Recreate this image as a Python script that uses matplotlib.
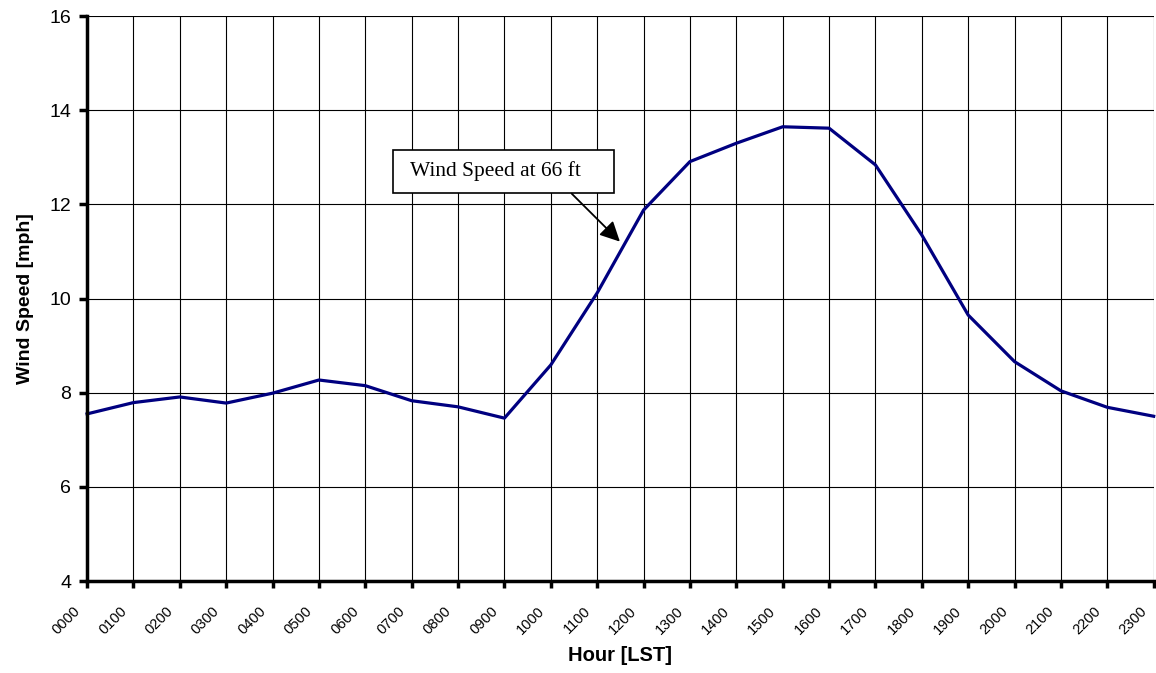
import matplotlib
matplotlib.use('Agg')
import matplotlib.pyplot as plt
import matplotlib.transforms as mtransforms

hours = ['0000', '0100', '0200', '0300', '0400', '0500', '0600', '0700',
         '0800', '0900', '1000', '1100', '1200', '1300', '1400', '1500',
         '1600', '1700', '1800', '1900', '2000', '2100', '2200', '2300']
speed = [7.55, 7.79, 7.91, 7.78, 7.99, 8.27, 8.15, 7.83,
         7.70, 7.46, 8.59, 10.12, 11.88, 12.91, 13.30, 13.65,
         13.62, 12.84, 11.35, 9.65, 8.66, 8.04, 7.69, 7.50]

plt.rcParams['font.family'] = ['Liberation Sans', 'DejaVu Sans']

fig = plt.figure(figsize=(11.56, 6.73), dpi=100)
ax = fig.add_axes([0.0753, 0.1367, 0.9227, 0.8393])

x = list(range(len(hours)))
ax.plot(x, speed, color='#000080', lw=2.3, zorder=3, clip_on=False)

ax.set_xlim(0, 23)
ax.set_ylim(4, 16)
ax.set_xticks(x)
ax.set_yticks(range(4, 17, 2))
ax.tick_params(axis='y', labelsize=14, length=5.5, width=2.5, direction='out', pad=6)
ax.tick_params(axis='x', length=5, width=2.5, direction='out', labelbottom=False)

# rotated hour labels, sitting a little left of each tick like the original
off = mtransforms.ScaledTranslation(-9 / 100, -28 / 100, fig.dpi_scale_trans)
for i, lab in enumerate(hours):
    ax.text(i, 0, lab, transform=ax.get_xaxis_transform() + off,
            rotation=45, rotation_mode='anchor', ha='right', va='center',
            fontsize=10.5, clip_on=False)

ax.grid(True, color='black', lw=0.8)
ax.set_axisbelow(True)
for s in ['top', 'right']:
    ax.spines[s].set_visible(False)
for s in ['left', 'bottom']:
    ax.spines[s].set_linewidth(2.5)
    ax.spines[s].set_zorder(4)

ax.set_xlabel('Hour [LST]', fontsize=14.5, fontweight='bold', labelpad=42)
ax.set_ylabel('Wind Speed [mph]', fontsize=14, fontweight='bold', labelpad=11)

# callout label and arrow
ax.text(8.99, 12.70, ' Wind Speed at 66 ft    ', ha='center', va='center',
        fontsize=15.5, family=['Liberation Serif', 'DejaVu Serif'],
        bbox=dict(boxstyle='square,pad=0.55', fc='white', ec='black', lw=1.2),
        zorder=5)
ax.annotate('', xy=(11.49, 11.21), xytext=(10.45, 12.23),
            arrowprops=dict(arrowstyle='-|>', color='black', lw=1.3,
                            mutation_scale=30, shrinkA=0, shrinkB=0),
            zorder=5)

fig.savefig('out.png', dpi=100)
